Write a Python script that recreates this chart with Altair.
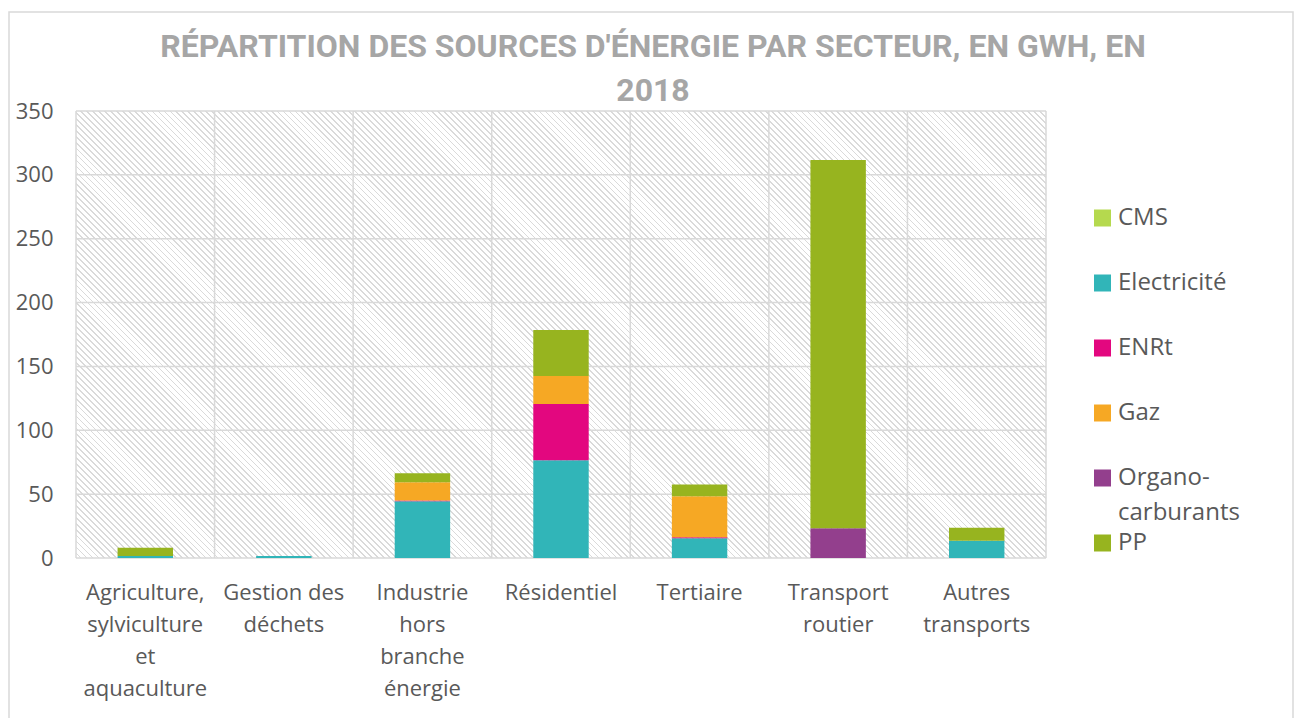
import json
import altair as alt
import pandas as pd

# ---------------- data ----------------
categories = [
    "Agriculture, sylviculture et aquaculture",
    "Gestion des déchets",
    "Industrie hors branche énergie",
    "Résidentiel",
    "Tertiaire",
    "Transport routier",
    "Autres transports",
]
label_lines = [
    ["Agriculture,", "sylviculture", "et", "aquaculture"],
    ["Gestion des", "déchets"],
    ["Industrie", "hors", "branche", "énergie"],
    ["Résidentiel"],
    ["Tertiaire"],
    ["Transport", "routier"],
    ["Autres", "transports"],
]
series = ["CMS", "Electricité", "ENRt", "Gaz", "Organo-carburants", "PP"]
legend_labels = ["CMS", "Electricité", "ENRt", "Gaz", "Organo-\ncarburants", "PP"]
colors = ["#b5d94e", "#31b5b8", "#e3077f", "#f6a824", "#933f8d", "#97b41f"]

cms = [0, 0, 0, 0, 0, 0, 0]
electricite = [1.5, 1.5, 44.5, 76.6, 15.5, 0, 13.5]
enrt = [0, 0, 0.5, 44.0, 0.8, 0, 0]
gaz = [0, 0, 14.4, 22.0, 32.1, 0, 0]
organo = [0, 0, 0, 0, 0, 23.2, 0]
pp = [6.5, 0, 7.0, 36.0, 9.1, 288.5, 10.2]

y_ticks = [0, 50, 100, 150, 200, 250, 300, 350]

title_lines = ["RÉPARTITION DES SOURCES D'ÉNERGIE PAR SECTEUR, EN GWH, EN", "2018"]

# ---------------- build tables ----------------
rows = []
for si, (s, vals) in enumerate(zip(series, [cms, electricite, enrt, gaz, organo, pp])):
    for c, v in zip(categories, vals):
        rows.append({"cat": c, "series": s, "value": v, "ord": si})
bars_df = pd.DataFrame(rows)
leg_df = pd.DataFrame({"series": series, "label": legend_labels})
title_df = pd.DataFrame({"t": ["\n".join(title_lines)]})

label_expr = "datum.label"
for c, lines in reversed(list(zip(categories, label_lines))):
    label_expr = (
        f"datum.label == {json.dumps(c, ensure_ascii=False)} ? "
        f"{json.dumps(lines, ensure_ascii=False)} : ({label_expr})"
    )

# ---------------- styles ----------------
W, H = 970, 447
GRID = "#d9d9d9"
TXT = "#595959"
FONT = "Open Sans"

# diagonal hatch for plot background (linear gradient with hard stops)
k = (W + H) / (W * W + H * H)
gx2, gy2 = W * k, 1 - H * k
n_periods = 238
stops = []
for i in range(n_periods):
    a = i / n_periods
    b = (i + 0.7) / n_periods
    c = (i + 1) / n_periods
    stops += [
        {"offset": a, "color": "#ffffff"},
        {"offset": b, "color": "#ffffff"},
        {"offset": b, "color": "#dadada"},
        {"offset": c, "color": "#dadada"},
    ]
hatch = {"gradient": "linear", "x1": 0, "y1": 1, "x2": gx2, "y2": gy2, "stops": stops}

xscale = alt.Scale(paddingInner=0, paddingOuter=0)
yscale = alt.Scale(domain=[0, 350], nice=False, zero=True)
cscale = alt.Scale(domain=series, range=colors)

x_axis = alt.Axis(
    title=None, labelExpr=label_expr, labelAngle=0, labelFontSize=22,
    labelColor=TXT, labelFont=FONT, labelLineHeight=32, labelPadding=24,
    domain=False, ticks=False, grid=False, labelOverlap=False, labelLimit=0,
)

one = alt.Data(values=[{}])

frame = alt.Chart(one).mark_rect(fillOpacity=0, stroke=GRID, strokeWidth=1.5).encode(
    x=alt.value(-67), x2=alt.value(1217), y=alt.value(-99), y2=alt.value(640)
)

bg = alt.Chart(one).mark_rect(fill=hatch, strokeWidth=0).encode(
    x=alt.value(0), x2=alt.value(W), y=alt.value(0), y2=alt.value(H)
)

hgrid = alt.Chart(pd.DataFrame({"v": y_ticks})).mark_rule(color=GRID, strokeWidth=1.5).encode(
    y=alt.Y("v:Q", scale=yscale, axis=None)
)

vgrid = alt.Chart(pd.DataFrame({"cat": categories})).mark_rule(color=GRID, strokeWidth=1.5).encode(
    x=alt.X("cat:N", sort=categories, bandPosition=0, scale=xscale, axis=x_axis)
)

right_edge = alt.Chart(one).mark_rule(color=GRID, strokeWidth=1.5).encode(
    x=alt.value(W), y=alt.value(0), y2=alt.value(H)
)

bars = alt.Chart(bars_df).mark_bar(width=alt.RelativeBandSize(0.4)).encode(
    x=alt.X("cat:N", sort=categories, scale=xscale, axis=x_axis),
    y=alt.Y(
        "value:Q",
        stack="zero",
        scale=yscale,
        axis=alt.Axis(
            title=None, values=y_ticks, labelFontSize=22, labelColor=TXT,
            labelFont=FONT, labelPadding=23, domain=False, ticks=False, grid=False,
        ),
    ),
    color=alt.Color("series:N", scale=cscale, legend=None),
    order=alt.Order("ord:Q", sort="ascending"),
)

leg_y = alt.Y("series:N", sort=series, scale=alt.Scale(range=[107, 432], padding=0), axis=None)

leg_sym = alt.Chart(leg_df).mark_square(size=289, opacity=1).encode(
    x=alt.value(W + 56.5),
    y=leg_y,
    color=alt.Color("series:N", scale=cscale, legend=None),
)

leg_txt = alt.Chart(leg_df).mark_text(
    align="left", baseline="top", dy=-12.5, fontSize=24, font=FONT, color=TXT,
    lineBreak="\n", lineHeight=35,
).encode(x=alt.value(W + 72), y=leg_y, text="label:N")

title = alt.Chart(title_df).mark_text(
    align="center", baseline="alphabetic", fontSize=32, font="Roboto",
    fontWeight="bold", color="#a6a6a6", lineBreak="\n", lineHeight=44,
).encode(x=alt.value(577), y=alt.value(-54), text="t:N")

chart = (
    alt.layer(frame, bg, hgrid, vgrid, right_edge, bars, leg_sym, leg_txt, title)
    .resolve_scale(y="independent")
    .properties(
        width=W,
        height=H,
        padding={"left": 68, "top": 103, "right": 249, "bottom": 160},
        autosize=alt.AutoSizeParams(type="none"),
    )
    .configure_view(stroke=None)
)

chart.save("out.html", embed_options={"renderer": "svg", "actions": False})
